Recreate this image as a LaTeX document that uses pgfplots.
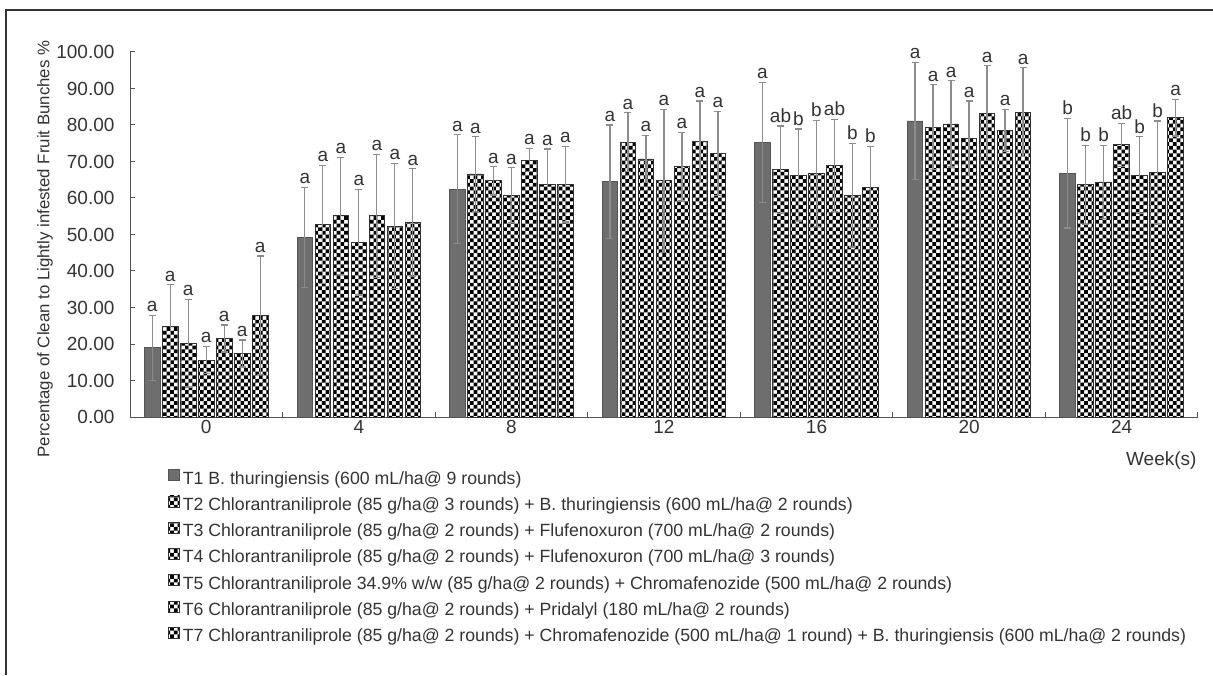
\documentclass[border=0pt]{standalone}
\usepackage{fontspec}
\setmainfont{Liberation Sans}
\usepackage{pgfplots}
\pgfplotsset{compat=1.18}
\usepackage{pgfplotstable}
\usetikzlibrary{patterns}
\definecolor{txt}{HTML}{333333}
\definecolor{axc}{HTML}{555555}
\definecolor{tone}{HTML}{6E6E6E}
\definecolor{errc}{HTML}{8C8C8C}
\pgfdeclarepatternformonly{mycheck}{\pgfqpoint{-0.1pt}{-0.1pt}}{\pgfqpoint{7.5pt}{7.5pt}}{\pgfqpoint{7.4pt}{7.4pt}}{%
  \pgfpathrectangle{\pgfpointorigin}{\pgfqpoint{3.7pt}{3.7pt}}%
  \pgfpathrectangle{\pgfqpoint{3.7pt}{3.7pt}}{\pgfqpoint{3.7pt}{3.7pt}}%
  \pgfusepath{fill}}

\pgfplotstableread{
x y e l
0 19.0 8.9 a
1 49.2 13.7 a
2 62.4 14.9 a
3 64.5 15.5 a
4 75.2 16.5 a
5 81.1 16.1 a
6 66.8 15.0 b
}\tA
\pgfplotstableread{
x y e l
0 24.9 11.3 a
1 52.8 16.2 a
2 66.6 10.2 a
3 75.3 8.1 a
4 67.7 12.0 ab
5 79.4 11.6 a
6 63.6 10.8 b
}\tB
\pgfplotstableread{
x y e l
0 20.2 12.0 a
1 55.1 16.0 a
2 64.7 3.9 a
3 70.7 6.5 a
4 66.3 12.6 b
5 80.3 11.8 a
6 64.4 10.0 b
}\tC
\pgfplotstableread{
x y e l
0 15.6 3.7 a
1 47.9 14.5 a
2 60.8 7.5 a
3 64.7 19.6 a
4 66.8 14.5 b
5 76.4 10.2 a
6 74.6 5.9 ab
}\tD
\pgfplotstableread{
x y e l
0 21.5 3.7 a
1 55.1 16.9 a
2 70.4 3.2 a
3 68.6 9.4 a
4 69.0 12.6 ab
5 83.2 13.0 a
6 66.3 10.5 b
}\tE
\pgfplotstableread{
x y e l
0 17.4 3.7 a
1 52.3 17.2 a
2 63.8 9.6 a
3 75.4 11.2 a
4 60.8 14.2 b
5 78.5 5.8 a
6 67.0 14.1 b
}\tF
\pgfplotstableread{
x y e l
0 27.9 16.2 a
1 53.3 14.7 a
2 63.8 10.4 a
3 72.2 11.6 a
4 62.9 11.2 b
5 83.5 12.2 a
6 82.0 5.0 a
}\tG

\begin{document}
\begin{tikzpicture}
\path[use as bounding box] (0,0) rectangle (1213pt,675pt);
\draw[txt, line width=1.4pt] (6pt,0pt) -- (6pt,665pt) -- (1213pt,665pt);
\begin{axis}[
  at={(130pt,258pt)}, anchor=south west,
  scale only axis, width=1068pt, height=365pt,
  xmin=-0.5, xmax=6.5, ymin=0, ymax=100,
  axis x line*=bottom, axis y line*=left,
  axis line style={axc, line width=1pt},
  ybar=2.5pt, bar width=15.5pt,
  tick align=inside,
  xtick={0,1,2,3,4,5,6},
  xticklabels={0,4,8,12,16,20,24},
  major x tick style={draw=none},
  minor xtick={0.5,1.5,2.5,3.5,4.5,5.5,6.5},
  minor tick length=5pt,
  minor x tick style={axc, line width=1pt},
  ytick={0,10,...,100},
  major tick length=5pt,
  y tick style={axc, line width=1pt},
  yticklabel style={/pgf/number format/.cd, fixed, fixed zerofill, precision=2, assume math mode=true, /tikz/.cd, xshift=-12pt},
  xticklabel style={/pgf/number format/assume math mode=true},
  tick label style={font=\fontsize{19}{21}\selectfont, text=txt},
  point meta=explicit symbolic,
  nodes near coords,
  visualization depends on={\thisrow{e} \as \myerr},
  nodes near coords style={font=\fontsize{19}{21}\selectfont, text=txt, anchor=south, inner sep=1pt, yshift=\myerr*3.65pt+2pt},
  error bars/y dir=both, error bars/y explicit,
  error bars/error bar style={errc, line width=1.2pt},
  error bars/error mark options={errc, line width=1.2pt, mark size=3.5pt, rotate=90},
  legend style={at={(0,0)}, anchor=north west, xshift=38pt, yshift=-52pt, draw=none, fill=none, inner sep=0pt,
    font=\fontsize{17.7}{19}\selectfont, text=txt, row sep=7.5pt,
    nodes={inner sep=0pt, text height=12pt, text depth=4pt}},
  legend cell align=left,
  /tikz/every odd column/.append style={column sep=3pt},
  legend image code/.code={\draw[#1, line width=0.6pt] (0pt,-0.5pt) rectangle (11pt,10.5pt);},
]
\addplot[fill=tone, draw=axc, line width=0.8pt] table[x=x, y=y, y error=e, meta=l] {\tA};
\addplot[pattern=mycheck, pattern color=black, draw=txt, line width=0.8pt] table[x=x, y=y, y error=e, meta=l] {\tB};
\addplot[pattern=mycheck, pattern color=black, draw=txt, line width=0.8pt] table[x=x, y=y, y error=e, meta=l] {\tC};
\addplot[pattern=mycheck, pattern color=black, draw=txt, line width=0.8pt] table[x=x, y=y, y error=e, meta=l] {\tD};
\addplot[pattern=mycheck, pattern color=black, draw=txt, line width=0.8pt] table[x=x, y=y, y error=e, meta=l] {\tE};
\addplot[pattern=mycheck, pattern color=black, draw=txt, line width=0.8pt] table[x=x, y=y, y error=e, meta=l] {\tF};
\addplot[pattern=mycheck, pattern color=black, draw=txt, line width=0.8pt] table[x=x, y=y, y error=e, meta=l] {\tG};
\legend{T1 B. thuringiensis (600 mL/ha@ 9 rounds),
T2 Chlorantraniliprole (85 g/ha@ 3 rounds) + B. thuringiensis (600 mL/ha@ 2 rounds),
T3 Chlorantraniliprole (85 g/ha@ 2 rounds) + Flufenoxuron (700 mL/ha@ 2 rounds),
T4 Chlorantraniliprole (85 g/ha@ 2 rounds) + Flufenoxuron (700 mL/ha@ 3 rounds),
T5 Chlorantraniliprole 34.9\% w/w (85 g/ha@ 2 rounds) + Chromafenozide (500 mL/ha@ 2 rounds),
T6 Chlorantraniliprole (85 g/ha@ 2 rounds) + Pridalyl (180 mL/ha@ 2 rounds),
T7 Chlorantraniliprole (85 g/ha@ 2 rounds) + Chromafenozide (500 mL/ha@ 1 round) + B. thuringiensis (600 mL/ha@ 2 rounds)}
\end{axis}
\node[rotate=90, font=\fontsize{16.8}{20}\selectfont, text=txt] at (45pt,426pt) {Percentage of Clean to Lightly infested Fruit Bunches \%};
\node[anchor=east, font=\fontsize{19}{21}\selectfont, text=txt] at (1200pt,214pt) {Week(s)};
\end{tikzpicture}
\end{document}
